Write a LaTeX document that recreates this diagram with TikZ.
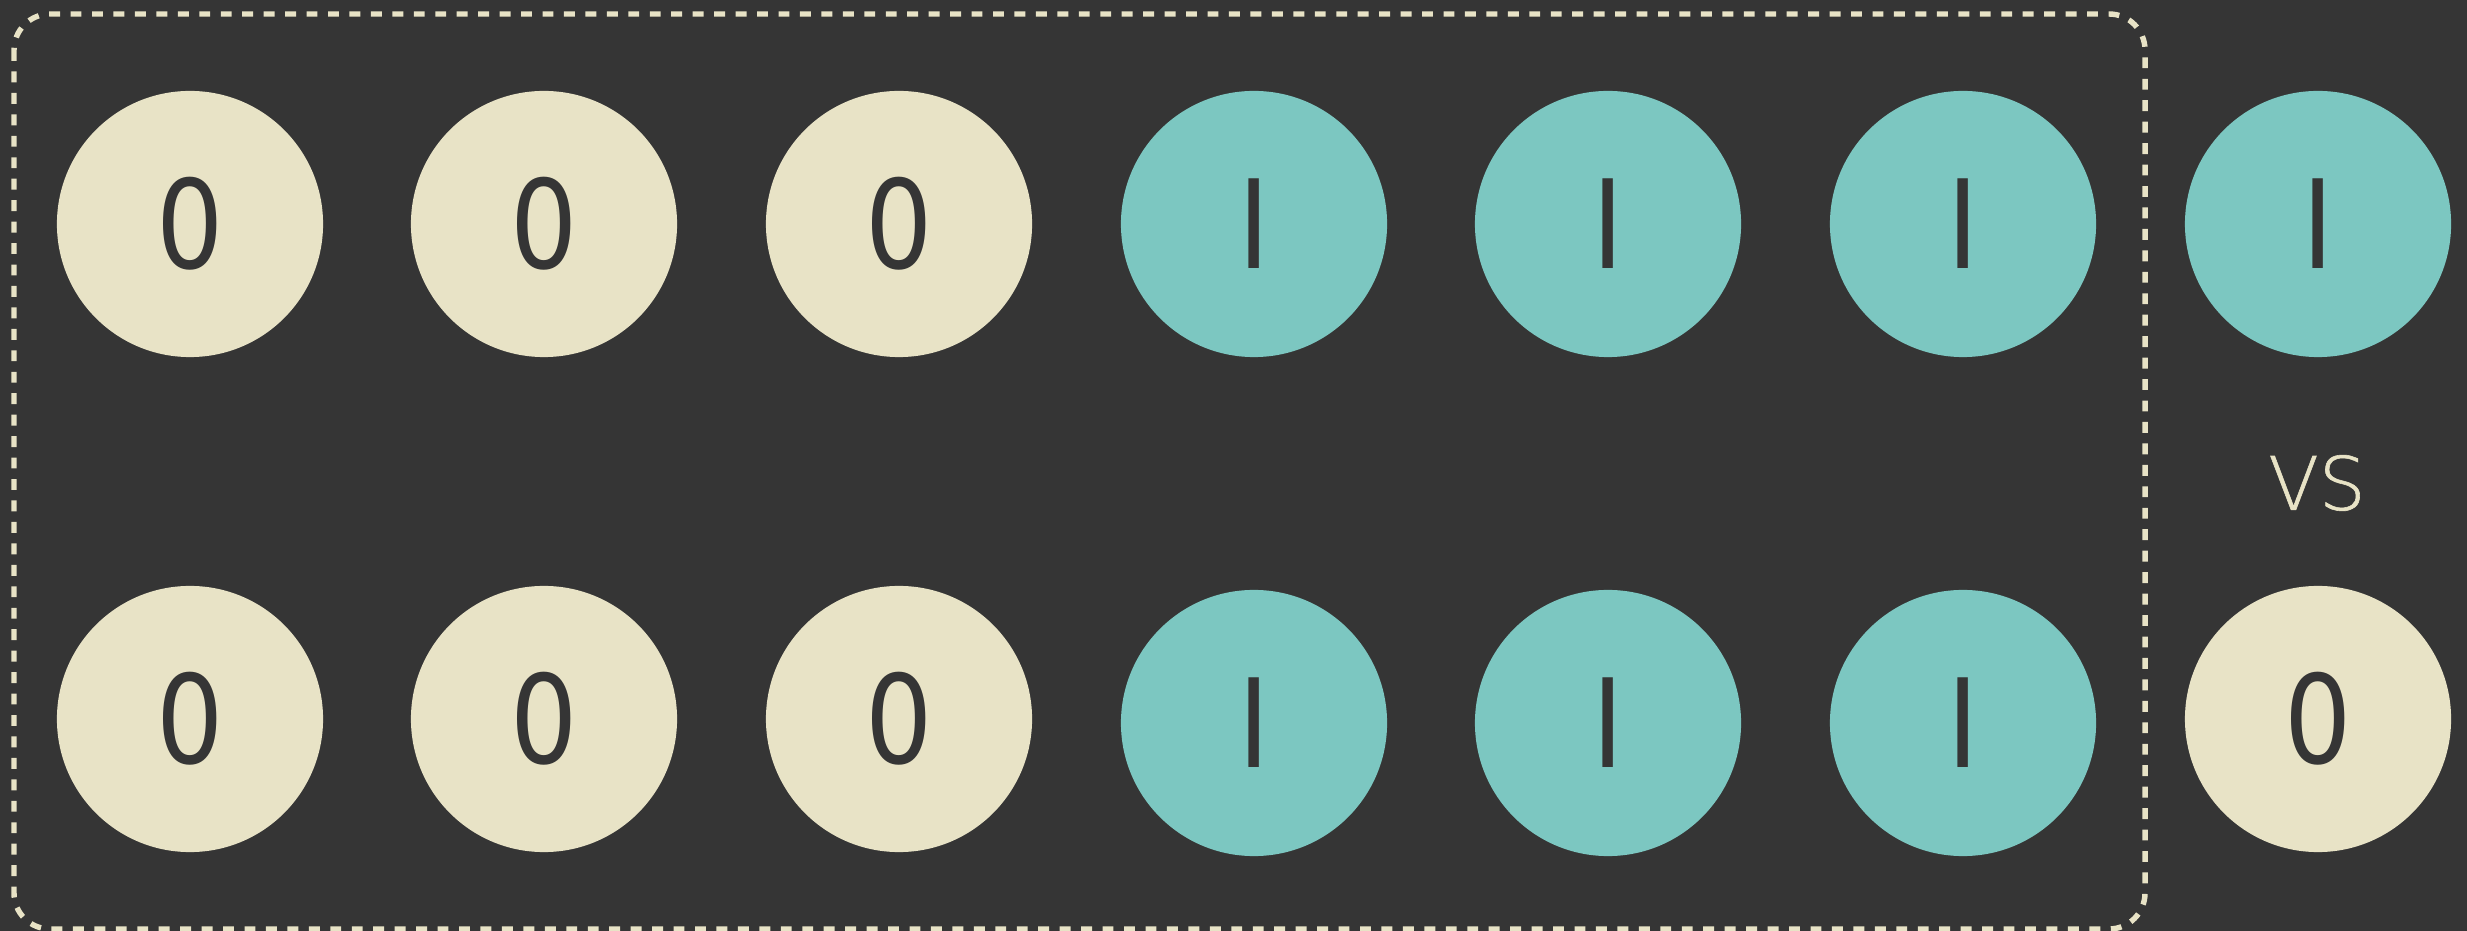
\documentclass[tikz,border=0pt]{standalone}
\usepackage{fontspec}
\setmainfont{DejaVu Sans}
\newfontfamily\digitfont[FakeStretch=0.86]{DejaVu Sans}
\newfontfamily\vsfont[FakeBold=0.8]{DejaVu Sans ExtraLight}
\definecolor{bg}{HTML}{353535}
\definecolor{beige}{HTML}{E8E3C6}
\definecolor{teal}{HTML}{7CC7C1}
\begin{document}
\begin{tikzpicture}[x=0.01cm,y=-0.01cm,
  ball/.style={circle,inner sep=0pt,minimum size=2.66cm,text=bg,font=\digitfont\fontsize{35}{40}\selectfont},
  zero/.style={ball,fill=beige},
  one/.style={ball,fill=teal},
  frame/.style={draw=beige,line width=1.55pt,dash pattern=on 3.1pt off 3pt,rounded corners=0.36cm}]
\useasboundingbox (0,0) rectangle (2467,931);
\fill[bg] (0,0) rectangle (2467,931);
\draw[frame] (14,14) rectangle (2145,929);
% top row
\node[zero] (a1) at (190,224) {0};
\node[zero] (a2) at (544,224) {0};
\node[zero] (a3) at (899,224) {0};
\node[one]  (a4) at (1254,224) {I};
\node[one]  (a5) at (1608,224) {I};
\node[one]  (a6) at (1963,224) {I};
\node[one]  (a7) at (2318,224) {I};
% bottom row
\node[zero] (b1) at (190,719) {0};
\node[zero] (b2) at (544,719) {0};
\node[zero] (b3) at (899,719) {0};
\node[one]  (b4) at (1254,723) {I};
\node[one]  (b5) at (1608,723) {I};
\node[one]  (b6) at (1963,723) {I};
\node[zero] (b7) at (2318,719) {0};
\node[text=beige,font=\vsfont\fontsize{21}{24}\selectfont] (vs) at (2317,483) {VS};
\end{tikzpicture}
\end{document}
